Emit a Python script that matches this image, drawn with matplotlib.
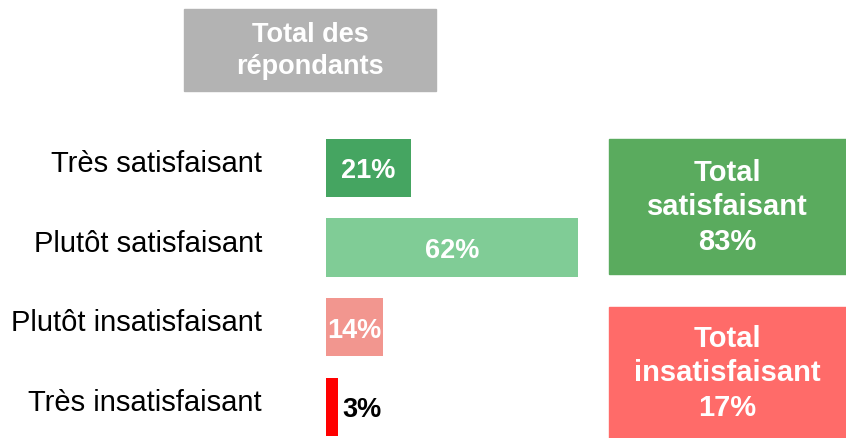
import matplotlib.pyplot as plt
from matplotlib.patches import Rectangle
from matplotlib.transforms import ScaledTranslation

categories = ["Très satisfaisant", "Plutôt satisfaisant", "Plutôt insatisfaisant", "Très insatisfaisant"]
values = [21, 62, 14, 3]
bar_colors = ["#45a561", "#80cc96", "#f2968f", "#ff0000"]
label_colors = ["white", "white", "white", "black"]

total_labels = ["Total\nsatisfaisant\n83%", "Total\ninsatisfaisant\n17%"]
total_colors = ["#5aab5e", "#ff6b69"]
header = "Total des\nrépondants"

W, H = 846, 439
fig = plt.figure(figsize=(W / 100, H / 100), dpi=100)
plt.rcParams["font.family"] = ["Liberation Sans", "DejaVu Sans"]

# bar axes: x=0 at px 326, x=62 at px 578
px_per = (578 - 326) / 62
ax = fig.add_axes([326 / W, 0, 100 * px_per / W, 1 - 129 / H])
ax.set_xlim(0, 100)
ax.set_ylim(3 + (H - 408) / 79.7, -0.5)
y = list(range(len(categories)))
ax.barh(y, values, height=0.73, color=bar_colors)
for i, v in enumerate(values):
    if i == 3:
        ax.text(v + 1, i + 0.03, f"{v}%", ha="left", va="center",
                fontsize=19.5, fontweight="bold", color=label_colors[i])
    else:
        ax.text(v / 2, i + 0.03, f"{v}%", ha="center", va="center",
                fontsize=19.5, fontweight="bold", color=label_colors[i])
ax.set_yticks(y)
ax.set_yticklabels(categories, fontsize=21)
ax.tick_params(axis="y", length=0, pad=64 * 0.72)
# labels sit a little above the bar centres
for lab in ax.get_yticklabels():
    lab.set_transform(lab.get_transform() + ScaledTranslation(0, 0.08, fig.dpi_scale_trans))
ax.set_xticks([])
for s in ax.spines.values():
    s.set_visible(False)


def box(x0, y0, x1, y1, color, text, size, ls):
    fig.patches.append(Rectangle((x0 / W, 1 - y1 / H), (x1 - x0) / W, (y1 - y0) / H,
                                 transform=fig.transFigure, color=color, zorder=0))
    fig.text((x0 + x1) / 2 / W, 1 - (y0 + y1) / 2 / H, text, ha="center", va="center",
             color="white", fontsize=size, fontweight="bold", linespacing=ls)


box(184, 10, 436, 92, "#b3b3b3", header, 19.5, 1.35)
box(609, 140, 846, 275, total_colors[0], total_labels[0], 21, 1.3)
box(609, 308, 846, 439, total_colors[1], total_labels[1], 21, 1.3)

fig.savefig("out.png", dpi=100)
